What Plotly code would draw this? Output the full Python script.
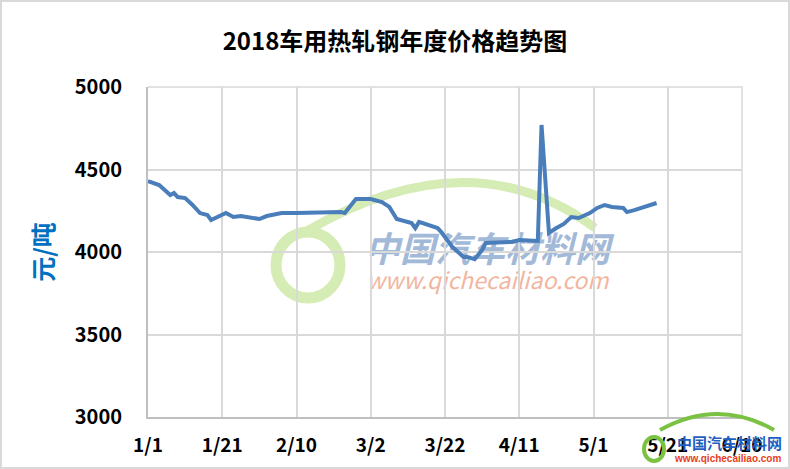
import plotly.graph_objects as go

# 2018 hot-rolled steel price
dates = [
    "2018-01-01", "2018-01-04", "2018-01-07", "2018-01-08", "2018-01-09",
    "2018-01-11", "2018-01-13", "2018-01-15", "2018-01-17", "2018-01-18",
    "2018-01-22", "2018-01-24", "2018-01-26", "2018-01-29", "2018-01-31",
    "2018-02-02", "2018-02-06", "2018-02-10", "2018-02-22", "2018-02-23",
    "2018-02-26", "2018-03-02", "2018-03-05", "2018-03-07", "2018-03-09",
    "2018-03-13", "2018-03-14", "2018-03-15", "2018-03-20", "2018-03-21",
    "2018-03-24", "2018-03-27", "2018-03-28", "2018-03-30", "2018-04-01",
    "2018-04-02", "2018-04-09", "2018-04-11", "2018-04-16", "2018-04-17",
    "2018-04-19", "2018-04-21", "2018-04-23", "2018-04-25", "2018-04-27",
    "2018-04-30", "2018-05-02", "2018-05-04", "2018-05-06", "2018-05-09",
    "2018-05-10", "2018-05-12", "2018-05-15", "2018-05-17", "2018-05-18",
]
prices = [
    4430, 4406, 4345, 4357, 4333,
    4327, 4285, 4236, 4224, 4194,
    4236, 4212, 4218, 4206, 4200,
    4218, 4236, 4236, 4242, 4236,
    4321, 4321, 4303, 4273, 4200,
    4176, 4145, 4182, 4145, 4121,
    4030, 3970, 3970, 3957, 4012,
    4055, 4061, 4073, 4067, 4770,
    4115, 4145, 4170, 4212, 4206,
    4236, 4267, 4285, 4273, 4267,
    4242, 4254, 4273, 4291, 4297,
]

tick_dates = ["2018-01-01", "2018-01-21", "2018-02-10", "2018-03-02", "2018-03-22",
              "2018-04-11", "2018-05-01", "2018-05-21", "2018-06-10"]
tick_labels = ["1/1", "1/21", "2/10", "3/2", "3/22", "4/11", "5/1", "5/21", "6/10"]
y_ticks = [3000, 3500, 4000, 4500, 5000]

FONT = "Noto Sans CJK SC"
L, R, T, B, W, H = 148, 48, 87, 52, 790, 469
PW, PH = W - L - R, H - T - B


def px(x, y):
    # pixel -> paper coords (decoration only)
    return (x - L) / PW, (H - B - y) / PH


fig = go.Figure(go.Scatter(
    x=dates, y=prices, mode="lines",
    line=dict(color="#4a7ebb", width=4),
    showlegend=False,
))

shapes = []
# faint watermark: green car roof arc + ring
x0, y0 = px(305, 232)
xc, yc = px(470, 135)
x1, y1 = px(595, 228)
shapes.append(dict(type="path", xref="paper", yref="paper", layer="between",
                   path=f"M {x0},{y0} Q {xc},{yc} {x1},{y1}",
                   line=dict(color="#d5ecb4", width=9)))
cx0, cy0 = px(276, 232)
cx1, cy1 = px(340, 298)
shapes.append(dict(type="circle", xref="paper", yref="paper", layer="between",
                   x0=cx0, y0=cy1, x1=cx1, y1=cy0,
                   line=dict(color="#d5ecb4", width=11)))
for txt, cy, size, col in [("<b><i>中国汽车材料网</i></b>", 252, 35, "#a3b9d8"),
                           ("<i>www.qichecailiao.com</i>", 283, 23, "#f2b6a0")]:
    a, b = px(350, cy - 20)
    c, d = px(625, cy + 20)
    shapes.append(dict(type="rect", xref="paper", yref="paper", layer="between",
                       x0=a, y0=d, x1=c, y1=b, line=dict(width=0),
                       fillcolor="rgba(0,0,0,0)",
                       label=dict(text=txt,
                                  font=dict(family=FONT, size=size, color=col),
                                  textposition="middle center")))

# plot-area top/right edges
ex0, ey0 = px(L, T)
ex1, ey1 = px(W - R, H - B)
shapes.append(dict(type="path", xref="paper", yref="paper", layer="between",
                   path=f"M {ex0},{ey0} L {ex1},{ey0} L {ex1},{ey1}",
                   line=dict(color="#d9d9d9", width=1.5)))

# corner logo
lx0, ly0 = px(660, 430)
lxc, lyc = px(718, 398)
lx1, ly1 = px(774, 430)
shapes.append(dict(type="path", xref="paper", yref="paper", layer="above",
                   path=f"M {lx0},{ly0} Q {lxc},{lyc} {lx1},{ly1}",
                   line=dict(color="#7cc242", width=4)))
rx0, ry0 = px(644, 437)
rx1, ry1 = px(664, 461)
shapes.append(dict(type="circle", xref="paper", yref="paper", layer="above",
                   x0=rx0, y0=ry1, x1=rx1, y1=ry0,
                   line=dict(color="#7cc242", width=4)))

# outer frame
fx0, fy0 = px(1, 468)
fx1, fy1 = px(789, 1)
shapes.append(dict(type="rect", xref="paper", yref="paper", layer="above",
                   x0=fx0, y0=fy0, x1=fx1, y1=fy1,
                   line=dict(color="#d9d9d9", width=2)))

annotations = [
    dict(text="<b>中国汽车材料网</b>", xref="paper", yref="paper",
         x=px(729, 442)[0], y=px(729, 442)[1], xanchor="center", yanchor="middle",
         showarrow=False, font=dict(family=FONT, size=15, color="#1f5fbf")),
    dict(text="<b>www.qichecailiao.com</b>", xref="paper", yref="paper",
         x=px(727, 458)[0], y=px(727, 458)[1], xanchor="center", yanchor="middle",
         showarrow=False, font=dict(family="Arial", size=10, color="#e8401c")),
]

fig.update_layout(
    width=W, height=H,
    margin=dict(l=L, r=R, t=T, b=B, autoexpand=False),
    paper_bgcolor="white", plot_bgcolor="white",
    title=dict(text="<b>2018车用热轧钢年度价格趋势图</b>",
               x=0.5, xref="container", xanchor="center", y=1 - 42 / H, yanchor="middle",
               font=dict(family=FONT, size=24, color="black")),
    xaxis=dict(
        type="date",
        range=[tick_dates[0], tick_dates[-1]],
        tickvals=tick_dates, ticktext=tick_labels,
        showgrid=True, gridcolor="#d9d9d9", gridwidth=1.5,
        showline=True, linecolor="#bfbfbf", linewidth=2,
        ticks="", ticklabelstandoff=10, automargin=False,
        tickfont=dict(family=FONT, size=19, color="black", weight="bold"),
        zeroline=False,
    ),
    yaxis=dict(
        range=[3000, 5000], tickvals=y_ticks,
        showgrid=True, gridcolor="#d9d9d9", gridwidth=1.5,
        showline=True, linecolor="#bfbfbf", linewidth=2,
        ticks="", ticklabelstandoff=20, automargin=False,
        tickfont=dict(family=FONT, size=20, color="black", weight="bold"),
        title=dict(text="<b>元/吨</b>", standoff=14,
                   font=dict(family=FONT, size=25, color="#0070c0")),
        zeroline=False,
    ),
    shapes=shapes,
    annotations=annotations,
)

fig.write_html("out.html", config={"displayModeBar": False},
               post_script="document.body.style.margin='0';")
